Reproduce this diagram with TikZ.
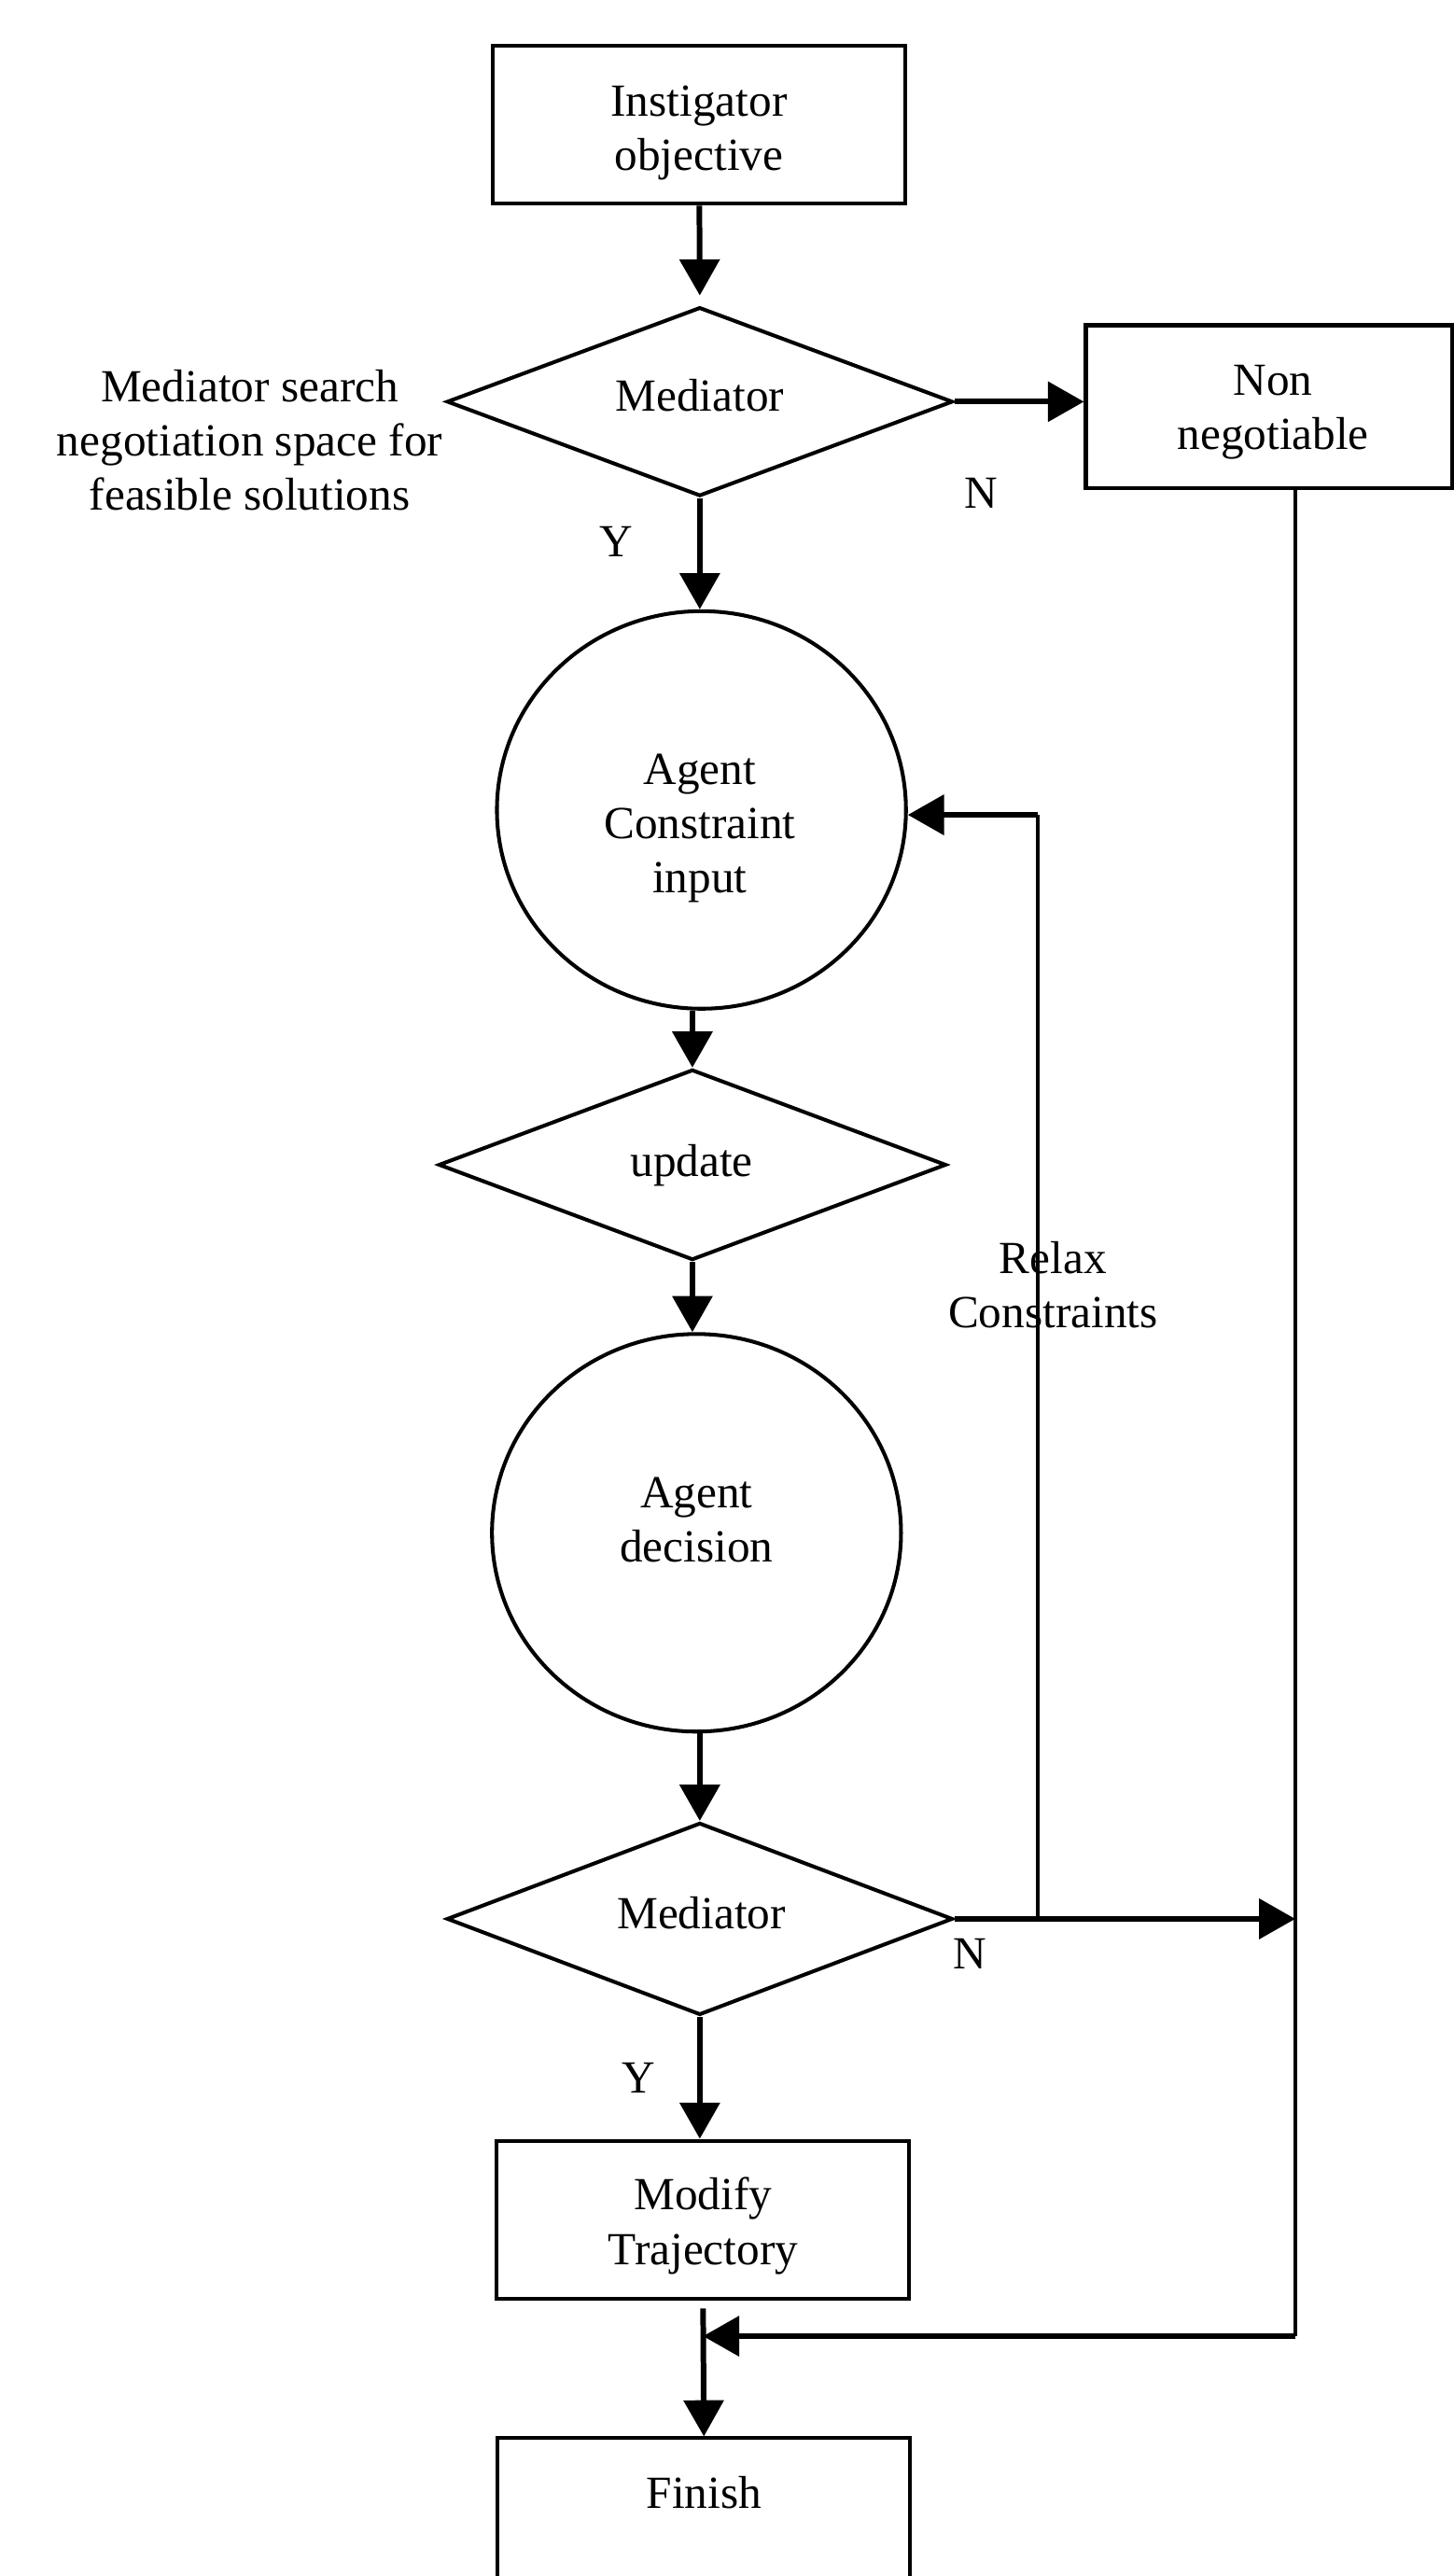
\documentclass[tikz,border=0pt]{standalone}
\usepackage{fontspec}
\setmainfont{Liberation Serif}
\usetikzlibrary{shapes.geometric,arrows.meta}

\tikzset{every picture/.style={line width=1.15pt}}
\tikzset{
  box/.style={draw, rectangle, minimum width=125.5pt, minimum height=48pt, inner sep=0pt},
  decision/.style={draw, diamond, aspect=2.68, minimum width=154pt, minimum height=57.5pt, inner sep=0pt},
  agent/.style={draw, ellipse, minimum width=124.5pt, minimum height=121pt, inner sep=0pt},
  txt/.style={align=center, inner sep=0.75pt},
  flow/.style={line width=1.7pt, -{Triangle[length=11pt,width=12pt]}},
  wire/.style={line width=1.15pt}
}

\begin{document}
\begin{tikzpicture}[x=0.5pt,y=0.5pt,yscale=-1,xscale=1,font=\fontsize{14pt}{16.5pt}\selectfont]
\useasboundingbox (0,0) rectangle (885,1568);

%Shape: Rectangle [id:instig]
\node[box] (instig) at (425.5,76) {};
%Shape: Diamond [id:med1]
\node[decision] (med1) at (426,244.5) {};
%Shape: Rectangle [id:nonneg]
\node[box, minimum width=111.5pt, minimum height=49.5pt] (nonneg) at (772.5,247.5) {};
%Shape: Ellipse [id:agentin]
\node[agent] (agentin) at (427,493) {};
%Shape: Diamond [id:upd]
\node[decision, minimum width=154.5pt, minimum height=58pt] (upd) at (421.5,709) {};
%Shape: Ellipse [id:agentdec]
\node[agent] (agentdec) at (424,933) {};
%Shape: Diamond [id:med2]
\node[decision, minimum height=58.5pt] (med2) at (426,1168) {};
%Shape: Rectangle [id:modify]
\node[box] (modify) at (428,1351) {};
%Shape: Rectangle [id:finish]
\node[box, anchor=north, minimum height=70pt] (finish) at (428.5,1483) {};

%Corners of the return lines
\coordinate (relaxtop) at (632,496);
\coordinate (nncorner) at (788.5,1422);

%Straight Lines [id:flow]
\draw[flow] (instig) -- ([yshift=-3pt]med1.north);
\draw[flow] (med1.east) -- (med1.east -| nonneg.west);
\draw[flow] (med1.south) -- (agentin.north -| med1.south);
\draw[flow] (agentin.south -| upd.north) -- (upd.north);
\draw[flow] (upd.south) -- (upd.south |- agentdec.north);
\draw[flow] (agentdec.south -| med2.north) -- (med2.north);
\draw[flow] (med2.south) -- (med2.south |- modify.north);
\draw[flow] (med2.east) -- (med2.east -| nncorner);
\draw[wire] (med2.east -| relaxtop) -- (relaxtop);
\draw[flow] (relaxtop) -- (relaxtop -| agentin.east);
\draw[wire] (nncorner |- nonneg.south) -- (nncorner);
\draw[flow] (nncorner) -- (nncorner -| modify.south);
\draw[flow] ([yshift=2.5pt]modify.south) -- (finish.north);

% Text Node
\node[txt] (instigtxt) at (425.5,80.8) {Instigator\\objective};
% Text Node
\node[txt] (med1txt) at (426,240.5) {Mediator};
% Text Node
\node[txt] (nonnegtxt) at (775,250.8) {Non\\negotiable};
% Text Node
\node[txt] (agentintxt) at (426,504) {Agent\\Constraint\\input};
% Text Node
\node[txt] (updtxt) at (421,709.3) {update};
% Text Node
\node[txt] (agentdectxt) at (424,925) {Agent\\decision};
% Text Node
\node[txt] (med2txt) at (427,1164.2) {Mediator};
% Text Node
\node[txt] (modifytxt) at (428,1354.9) {Modify\\Trajectory};
% Text Node
\node[txt] (finishtxt) at (428.5,1517) {Finish};
% Text Node
\node[txt] (search) at (152,268) {Mediator search\\negotiation space for\\feasible solutions};
% Text Node
\node[txt] (relax) at (641,782) {Relax\\Constraints};
% Text Node
\node[txt] (n1) at (597,300.4) {N};
% Text Node
\node[txt] (y1) at (375,329.8) {Y};
% Text Node
\node[txt] (n2) at (590.5,1189.4) {N};
% Text Node
\node[txt] (y2) at (389,1264.8) {Y};

\end{tikzpicture}
\end{document}
